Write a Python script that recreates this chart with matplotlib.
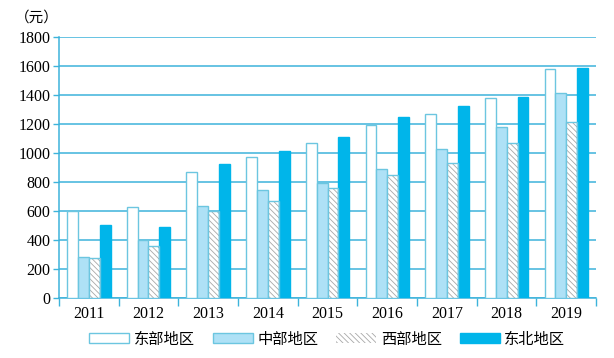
import numpy as np
import matplotlib.pyplot as plt
from matplotlib.patches import Patch

plt.rcParams['font.family'] = ['Liberation Serif', 'Noto Sans CJK SC']
plt.rcParams['hatch.linewidth'] = 0.6

years = ['2011', '2012', '2013', '2014', '2015', '2016', '2017', '2018', '2019']
east = [600, 630, 870, 970, 1070, 1195, 1265, 1380, 1575]
central = [285, 400, 635, 745, 795, 890, 1030, 1180, 1410]
west = [275, 355, 600, 665, 755, 845, 930, 1065, 1215]
northeast = [505, 490, 925, 1015, 1110, 1250, 1320, 1385, 1585]
names = ['东部地区', '中部地区', '西部地区', '东北地区']

edge = '#6cc6e0'
grid_c = '#3db3db'
fill_c = '#aee1f6'
ne_c = '#00b5ea'

fig = plt.figure(figsize=(6.14, 3.58), dpi=100)
ax = fig.add_axes([0.096, 0.168, 0.875, 0.729])

x = np.arange(len(years))
w = 0.182
off = [-1.5 * w, -0.5 * w, 0.5 * w, 1.5 * w]
lw = 1.0

ax.bar(x + off[0], east, w, color='white', edgecolor=edge, linewidth=lw, zorder=3)
ax.bar(x + off[1], central, w, color=fill_c, edgecolor=edge, linewidth=lw, zorder=3)
ax.bar(x + off[2], west, w, color='white', edgecolor='#a8a8a8', hatch='\\\\\\\\\\\\', linewidth=0, zorder=3)
ax.bar(x + off[2], west, w, color='none', edgecolor=edge, linewidth=lw, zorder=4)
ax.bar(x + off[3], northeast, w, color=ne_c, edgecolor=ne_c, linewidth=lw, zorder=3)

ax.set_xlim(-0.5, len(years) - 0.5)
ax.set_ylim(0, 1800)
ax.set_yticks(np.arange(0, 1801, 200))
ax.set_xticks(x)
ax.set_xticklabels(years)
ax.set_xticks(np.arange(-0.5, len(years), 1), minor=True)
ax.tick_params(axis='x', which='major', length=0, labelsize=11.5, pad=6)
ax.tick_params(axis='x', which='minor', length=6, color=grid_c, width=1)
ax.tick_params(axis='y', length=4, color=grid_c, width=1, labelsize=11.5, pad=2)
ax.yaxis.grid(True, color=grid_c, linewidth=1.1, zorder=0)
ax.set_axisbelow(True)

for s in ['top', 'right']:
    ax.spines[s].set_visible(False)
for s in ['left', 'bottom']:
    ax.spines[s].set_color(grid_c)
    ax.spines[s].set_linewidth(1.1)

ax.text(-0.041, 1.073, '（元）', transform=ax.transAxes, ha='center', va='center',
        fontsize=10.5, family=['Noto Sans CJK SC'])

handles = [
    Patch(facecolor='white', edgecolor=edge, linewidth=1),
    Patch(facecolor=fill_c, edgecolor=edge, linewidth=1),
    Patch(facecolor='white', edgecolor='#a8a8a8', hatch='\\\\\\\\\\\\', linewidth=0),
    Patch(facecolor=ne_c, edgecolor=ne_c, linewidth=1),
]
leg = fig.legend(handles, names, loc='center', bbox_to_anchor=(0.533, 0.053), ncol=4,
                 frameon=False, handlelength=2.6, handleheight=0.6, handletextpad=0.3,
                 columnspacing=1.2, prop={'family': 'Noto Sans CJK SC', 'size': 11})

fig.savefig('out.png', dpi=100)
